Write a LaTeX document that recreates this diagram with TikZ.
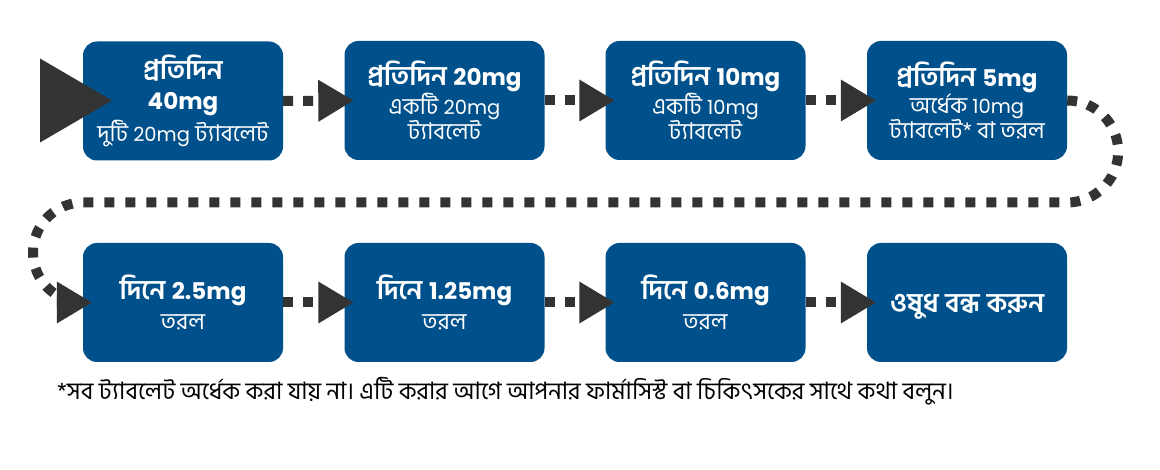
\documentclass[tikz,border=0pt]{standalone}
\usepackage{fontspec}
\usetikzlibrary{arrows.meta}
\newfontfamily\bn[Script=Bengali,Scale=1.18]{Hind Siliguri}
\newfontfamily\pop{Poppins}
\definecolor{boxblue}{RGB}{0,81,139}
\definecolor{dotgray}{RGB}{51,51,51}
\newcommand{\bigt}[1]{{\fontsize{23}{29}\selectfont\bfseries #1}}
\newcommand{\lat}[1]{{\pop #1}}
\begin{document}
\begin{tikzpicture}[x=1pt,y=-1pt,
  box/.style={fill=boxblue, rounded corners=14pt, minimum width=200pt, minimum height=119pt,
    text=white, align=center, inner sep=0pt, font=\bn\fontsize{19.5}{25}\selectfont},
  conn/.style={draw=dotgray, line width=10pt, dash pattern=on 10pt off 10pt,
    -{Triangle[length=35pt,width=42pt,line width=0pt,fill=dotgray]}},
  startmark/.style={fill=dotgray}]
\useasboundingbox (0,0) rectangle (1160,470);
\fill[white] (0,0) rectangle (1160,470);
% boxes
\node[box] (b1) at (183,101) {\bigt{প্রতিদিন}\\[5pt]\bigt{\lat{40mg}}\\[4pt]\bn দুটি \lat{20mg} ট্যাবলেট};
\node[box] (b2) at (444.5,100.5) {\bigt{প্রতিদিন \lat{20mg}}\\একটি \lat{20mg}\\ট্যাবলেট};
\node[box] (b3) at (705.5,100.5) {\bigt{প্রতিদিন \lat{10mg}}\\একটি \lat{10mg}\\ট্যাবলেট};
\node[box] (b4) at (967,100.5) {\bigt{প্রতিদিন \lat{5mg}}\\অর্ধেক \lat{10mg}\\ট্যাবলেট* বা তরল};
\node[box] (b5) at (183,302.5) {\bigt{দিনে \lat{2.5mg}}\\[5pt]তরল};
\node[box] (b6) at (444.5,302.5) {\bigt{দিনে \lat{1.25mg}}\\[5pt]তরল};
\node[box] (b7) at (705.5,302.5) {\bigt{দিনে \lat{0.6mg}}\\[5pt]তরল};
\node[box] (b8) at (967,302.5) {\raisebox{-10pt}[0pt][0pt]{\bigt{ওষুধ বন্ধ করুন}}};
% start marker
\coordinate (s) at (40,100.5);
\fill[startmark] (s) -- ++(0,-42) -- ++(72,42) -- ++(-72,42) -- cycle;
% connectors
\draw[conn] (b1.east) -- ([xshift=9pt]b2.west);
\draw[conn] (b2.east) -- ([xshift=9pt]b3.west);
\draw[conn] (b3.east) -- ([xshift=9pt]b4.west);
\coordinate (bend) at (83,202.5);
\draw[conn, dash pattern=on 10pt off 11pt] (b4.east) arc[start angle=90, end angle=-90, radius=51pt]
  -- (bend) arc[start angle=90, end angle=270, radius=50pt] -- ([xshift=9pt]b5.west);
\draw[conn] (b5.east) -- ([xshift=9pt]b6.west);
\draw[conn] (b6.east) -- ([xshift=9pt]b7.west);
\draw[conn] (b7.east) -- ([xshift=9pt]b8.west);
% footnote
\node[anchor=west, inner sep=0pt, font=\bn\fontsize{20.3}{24}\selectfont] (note) at (57,391)
  {*সব ট্যাবলেট অর্ধেক করা যায় না। এটি করার আগে আপনার ফার্মাসিস্ট বা চিকিৎসকের সাথে কথা বলুন।};
\end{tikzpicture}
\end{document}
